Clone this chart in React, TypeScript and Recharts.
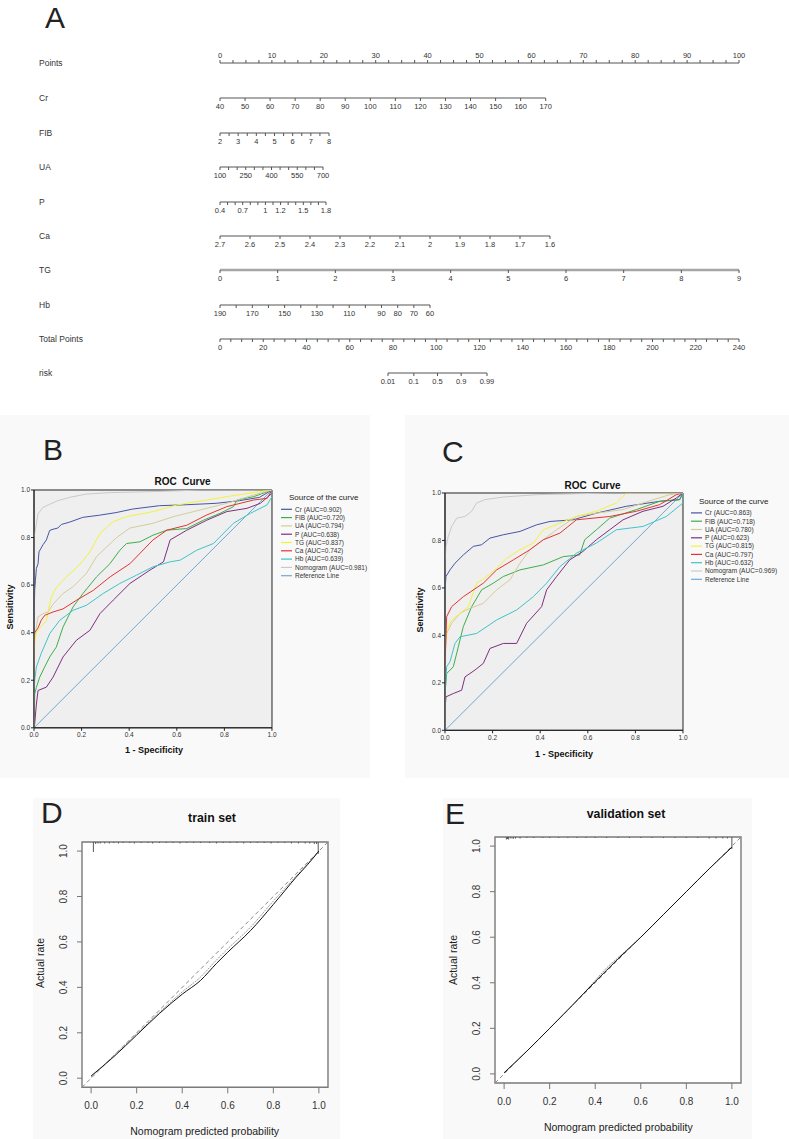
import React from "react";
import {
  ComposedChart,
  Line,
  XAxis,
  YAxis,
  CartesianGrid,
  ReferenceArea,
  ReferenceLine,
} from "recharts";

const FONT = "'Liberation Sans', Arial, Helvetica, sans-serif";

// ---------- A: nomogram scale labels
const POINTS_LABELS = [0, 10, 20, 30, 40, 50, 60, 70, 80, 90, 100];
const CR_LABELS = [40, 50, 60, 70, 80, 90, 100, 110, 120, 130, 140, 150, 160, 170];
const FIB_LABELS = [2, 3, 4, 5, 6, 7, 8];
const UA_LABELS = [100, 250, 400, 550, 700];
const P_LABELS = [0.4, 0.7, 1, 1.2, 1.5, 1.8];
const CA_LABELS = [2.7, 2.6, 2.5, 2.4, 2.3, 2.2, 2.1, 2, 1.9, 1.8, 1.7, 1.6];
const TG_LABELS = [0, 1, 2, 3, 4, 5, 6, 7, 8, 9];
const HB_LABELS = [190, 170, 150, 130, 110, 90, 80, 70, 60];
const TOTAL_LABELS = [0, 20, 40, 60, 80, 100, 120, 140, 160, 180, 200, 220, 240];
const RISK_LABELS = [0.01, 0.1, 0.5, 0.9, 0.99];

// ---------- B / C: ROC curves, [1 - specificity, sensitivity]
const B_CR = [[0, 0], [0, 0.44], [0.003, 0.58], [0.006, 0.62], [0.01, 0.67], [0.017, 0.69], [0.021, 0.74], [0.038, 0.77], [0.052, 0.79], [0.066, 0.83], [0.08, 0.835], [0.1, 0.84], [0.115, 0.855], [0.15, 0.865], [0.205, 0.885], [0.275, 0.894], [0.345, 0.905], [0.415, 0.92], [0.527, 0.934], [0.64, 0.938], [0.765, 0.944], [0.863, 0.955], [0.947, 0.969], [1, 1]];
const B_FIB = [[0, 0], [0.003, 0.143], [0.01, 0.17], [0.024, 0.213], [0.045, 0.256], [0.066, 0.298], [0.094, 0.34], [0.122, 0.424], [0.164, 0.508], [0.206, 0.565], [0.263, 0.635], [0.319, 0.69], [0.361, 0.747], [0.389, 0.775], [0.445, 0.782], [0.5, 0.81], [0.558, 0.831], [0.642, 0.838], [0.712, 0.873], [0.782, 0.902], [0.838, 0.93], [0.853, 0.958], [0.923, 0.972], [1, 1]];
const B_UA = [[0, 0], [0, 0.36], [0.006, 0.4], [0.017, 0.466], [0.038, 0.48], [0.059, 0.487], [0.08, 0.52], [0.122, 0.565], [0.164, 0.593], [0.22, 0.649], [0.263, 0.72], [0.305, 0.76], [0.347, 0.8], [0.403, 0.84], [0.5, 0.86], [0.586, 0.888], [0.698, 0.916], [0.81, 0.944], [0.923, 0.979], [1, 1]];
const B_P = [[0, 0], [0.003, 0.017], [0.01, 0.1], [0.017, 0.157], [0.052, 0.171], [0.08, 0.213], [0.122, 0.298], [0.178, 0.368], [0.235, 0.41], [0.277, 0.48], [0.333, 0.537], [0.403, 0.607], [0.487, 0.663], [0.544, 0.698], [0.572, 0.79], [0.642, 0.831], [0.726, 0.873], [0.81, 0.909], [0.895, 0.923], [0.951, 0.944], [1, 0.986], [1, 1]];
const B_TG = [[0, 0], [0, 0.3], [0.003, 0.36], [0.01, 0.4], [0.024, 0.42], [0.052, 0.45], [0.066, 0.52], [0.073, 0.55], [0.094, 0.59], [0.136, 0.635], [0.19, 0.684], [0.235, 0.74], [0.277, 0.817], [0.333, 0.867], [0.39, 0.888], [0.5, 0.909], [0.6, 0.937], [0.726, 0.958], [0.853, 0.979], [1, 1]];
const B_CA = [[0, 0], [0, 0.38], [0.003, 0.4], [0.017, 0.42], [0.03, 0.452], [0.045, 0.473], [0.08, 0.487], [0.122, 0.5], [0.178, 0.536], [0.249, 0.578], [0.32, 0.635], [0.403, 0.69], [0.5, 0.79], [0.558, 0.831], [0.642, 0.852], [0.726, 0.895], [0.81, 0.93], [0.923, 0.958], [0.98, 0.965], [1, 1]];
const B_HB = [[0, 0], [0, 0.15], [0.003, 0.2], [0.01, 0.256], [0.03, 0.312], [0.066, 0.396], [0.108, 0.452], [0.164, 0.494], [0.22, 0.515], [0.291, 0.565], [0.361, 0.607], [0.431, 0.642], [0.5, 0.677], [0.572, 0.698], [0.614, 0.705], [0.684, 0.747], [0.754, 0.775], [0.838, 0.86], [0.909, 0.902], [0.979, 0.937], [1, 0.972], [1, 1]];
const B_NOMO = [[0, 0], [0, 0.8], [0.006, 0.835], [0.017, 0.9], [0.038, 0.927], [0.066, 0.94], [0.1, 0.955], [0.15, 0.969], [0.22, 0.983], [0.32, 0.989], [0.53, 0.994], [0.7, 1], [1, 1]];
const B_AUC = ["0.902", "0.720", "0.794", "0.638", "0.837", "0.742", "0.639", "0.981"];

const C_CR = [[0, 0], [0, 0.59], [0.004, 0.648], [0.021, 0.676], [0.042, 0.704], [0.077, 0.739], [0.119, 0.775], [0.154, 0.782], [0.189, 0.81], [0.245, 0.824], [0.315, 0.838], [0.385, 0.866], [0.441, 0.88], [0.538, 0.887], [0.636, 0.915], [0.762, 0.944], [0.902, 0.965], [0.986, 0.972], [1, 1]];
const C_FIB = [[0, 0], [0, 0.155], [0.007, 0.239], [0.035, 0.268], [0.056, 0.352], [0.077, 0.437], [0.112, 0.521], [0.154, 0.592], [0.203, 0.62], [0.245, 0.648], [0.315, 0.676], [0.413, 0.697], [0.497, 0.732], [0.566, 0.739], [0.587, 0.803], [0.636, 0.845], [0.692, 0.894], [0.804, 0.93], [0.902, 0.965], [0.986, 0.972], [1, 1]];
const C_UA = [[0, 0], [0, 0.324], [0.007, 0.408], [0.028, 0.451], [0.063, 0.493], [0.105, 0.514], [0.161, 0.535], [0.217, 0.592], [0.273, 0.634], [0.315, 0.704], [0.357, 0.761], [0.413, 0.803], [0.469, 0.845], [0.552, 0.901], [0.636, 0.915], [0.748, 0.93], [0.832, 0.958], [0.944, 0.993], [1, 1]];
const C_P = [[0, 0], [0, 0.085], [0.004, 0.141], [0.035, 0.155], [0.07, 0.169], [0.084, 0.225], [0.126, 0.254], [0.161, 0.282], [0.189, 0.345], [0.245, 0.366], [0.301, 0.366], [0.343, 0.451], [0.406, 0.521], [0.427, 0.592], [0.469, 0.648], [0.524, 0.718], [0.58, 0.754], [0.636, 0.803], [0.692, 0.845], [0.748, 0.887], [0.832, 0.923], [0.916, 0.944], [0.972, 0.979], [1, 1]];
const C_TG = [[0, 0], [0, 0.352], [0.007, 0.423], [0.028, 0.465], [0.063, 0.493], [0.098, 0.521], [0.133, 0.62], [0.175, 0.648], [0.217, 0.683], [0.259, 0.725], [0.315, 0.761], [0.371, 0.789], [0.413, 0.845], [0.483, 0.873], [0.552, 0.901], [0.636, 0.923], [0.72, 0.958], [0.762, 1], [1, 1]];
const C_CA = [[0, 0], [0, 0.268], [0.007, 0.479], [0.028, 0.521], [0.077, 0.563], [0.161, 0.62], [0.217, 0.676], [0.287, 0.718], [0.357, 0.761], [0.413, 0.803], [0.483, 0.831], [0.552, 0.887], [0.692, 0.901], [0.804, 0.923], [0.902, 0.951], [0.972, 0.993], [1, 1]];
const C_HB = [[0, 0], [0, 0.155], [0.007, 0.268], [0.021, 0.289], [0.042, 0.366], [0.063, 0.394], [0.133, 0.408], [0.217, 0.465], [0.301, 0.507], [0.371, 0.563], [0.427, 0.62], [0.483, 0.69], [0.552, 0.746], [0.636, 0.789], [0.72, 0.845], [0.832, 0.859], [0.93, 0.901], [1, 0.958], [1, 1]];
const C_NOMO = [[0, 0], [0, 0.7], [0.004, 0.775], [0.014, 0.817], [0.028, 0.859], [0.049, 0.894], [0.084, 0.901], [0.112, 0.923], [0.133, 0.958], [0.168, 0.972], [0.245, 0.983], [0.385, 0.993], [0.692, 1], [1, 1]];
const C_AUC = ["0.863", "0.718", "0.780", "0.623", "0.815", "0.797", "0.632", "0.969"];

const REF_LINE = [[0, 0], [1, 1]];
const ROC_NAMES = ["Cr", "FIB", "UA", "P", "TG", "Ca", "Hb", "Nomogram"];
const ROC_COLORS = ["#4454a4", "#3dae49", "#d4cc98", "#7d2e80", "#f2f23c", "#e2342f", "#3fc3c7", "#c9c9c9"];
const REF_COLOR = "#6fa9d6";
const ROC_TICKS = [0, 0.2, 0.4, 0.6, 0.8, 1];

// ---------- D / E: calibration
const TRAIN_PRED = [0, 0.1, 0.2, 0.3, 0.4, 0.48, 0.55, 0.6, 0.7, 0.8, 0.85, 0.9, 0.95, 1];
const TRAIN_ACTUAL = [0.01, 0.095, 0.19, 0.285, 0.37, 0.43, 0.505, 0.555, 0.65, 0.765, 0.825, 0.885, 0.94, 1];
const TRAIN_APPARENT = [0.005, 0.1, 0.195, 0.29, 0.38, 0.445, 0.52, 0.57, 0.665, 0.78, 0.835, 0.89, 0.945, 1];
const TRAIN_RUG_X = [0.01, 0.02, 0.03, 0.04, 0.06, 0.08, 0.1, 0.12, 0.14, 0.17, 0.19, 0.22, 0.25, 0.27, 0.3, 0.33, 0.36, 0.39, 0.42, 0.45, 0.48, 0.52, 0.55, 0.58, 0.61, 0.64, 0.67, 0.7, 0.73, 0.76, 0.79, 0.82, 0.85, 0.88, 0.91, 0.94, 0.96, 0.98, 0.99, 0.997];
const TRAIN_RUG_N = [20, 4, 3, 3, 3, 3, 2, 3, 2, 2, 3, 2, 2, 3, 2, 2, 2, 3, 2, 2, 2, 2, 3, 2, 2, 2, 3, 2, 2, 2, 3, 2, 2, 3, 3, 3, 3, 4, 4, 24];

const VALID_PRED = [0, 0.1, 0.2, 0.3, 0.4, 0.45, 0.5, 0.6, 0.7, 0.8, 0.9, 1];
const VALID_ACTUAL = [0.005, 0.1, 0.2, 0.302, 0.405, 0.455, 0.505, 0.6, 0.7, 0.8, 0.9, 0.995];
const VALID_APPARENT = [0.005, 0.1, 0.2, 0.3, 0.41, 0.465, 0.51, 0.6, 0.7, 0.8, 0.9, 0.995];
const VALID_RUG_X = [0.01, 0.015, 0.02, 0.03, 0.04, 0.05, 0.07, 0.1, 0.13, 0.17, 0.2, 0.24, 0.28, 0.32, 0.36, 0.4, 0.45, 0.5, 0.55, 0.6, 0.65, 0.7, 0.75, 0.8, 0.85, 0.9, 0.93, 0.96, 0.98, 1];
const VALID_RUG_N = [5, 4, 5, 3, 4, 3, 3, 2, 2, 2, 2, 2, 2, 2, 2, 2, 2, 2, 2, 2, 2, 2, 2, 2, 2, 3, 3, 3, 3, 24];
const CAL_TICKS = [0, 0.2, 0.4, 0.6, 0.8, 1];

// ---------- helpers
function steps(lo: number, hi: number, step: number) {
  const out: number[] = [];
  for (let v = lo; v <= hi + 1e-9; v += step) out.push(+v.toFixed(4));
  return out;
}
const logit = (p: number) => Math.log(p / (1 - p));
const toPts = (arr: number[][]) => arr.map(([x, y]) => ({ x, y }));
const zipPts = (xs: number[], ys: number[]) => xs.map((x, i) => ({ x, y: ys[i] }));

const NOMO_ROWS = [
  { name: "Points", labels: POINTS_LABELS, ticks: steps(0, 100, 2.5), domain: [0, 100], x0: 220, x1: 739, y: 63, top: true },
  { name: "Cr", labels: CR_LABELS, ticks: CR_LABELS, domain: [40, 170], x0: 220, x1: 545.7, y: 98 },
  { name: "FIB", labels: FIB_LABELS, ticks: steps(2, 8, 0.5), domain: [2, 8], x0: 220, x1: 329, y: 133 },
  { name: "UA", labels: UA_LABELS, ticks: steps(100, 700, 50), domain: [100, 700], x0: 220, x1: 323, y: 167 },
  { name: "P", labels: P_LABELS, ticks: steps(0.4, 1.8, 0.1), domain: [0.4, 1.8], x0: 220, x1: 326, y: 202 },
  { name: "Ca", labels: CA_LABELS, ticks: CA_LABELS, domain: [1.6, 2.7], reversed: true, x0: 220, x1: 550, y: 236 },
  { name: "TG", labels: TG_LABELS, ticks: TG_LABELS, domain: [0, 9], x0: 220, x1: 739, y: 270, thick: true },
  { name: "Hb", labels: HB_LABELS, ticks: steps(60, 190, 10), domain: [60, 190], reversed: true, x0: 220, x1: 430, y: 305 },
  { name: "Total Points", labels: TOTAL_LABELS, ticks: steps(0, 240, 5), domain: [0, 240], x0: 220, x1: 739, y: 339 },
  { name: "risk", labels: RISK_LABELS, ticks: RISK_LABELS, domain: [0.01, 0.99], x0: 388, x1: 487, y: 373, logit: true },
];

function NomoRow({ row }: { row: any }) {
  const pad = 24;
  const h = 40;
  const axisH = 30;
  const f = row.logit ? logit : (v: number) => v;
  const data = row.ticks.map((t: number) => ({ v: f(t), y: 0.5 }));
  const fmt = (v: number) => {
    const l = row.labels.find((l: number) => Math.abs(f(l) - v) < 1e-6);
    return l === undefined ? "" : String(l);
  };
  return (
    <div style={{ position: "absolute", left: row.x0 - pad, top: row.y - (row.top ? axisH : h - axisH) }}>
      <ComposedChart width={row.x1 - row.x0 + 2 * pad} height={h} data={data} margin={{ top: 0, right: pad, bottom: 0, left: pad }}>
        <XAxis
          dataKey="v"
          type="number"
          domain={[f(row.domain[0]), f(row.domain[1])]}
          ticks={row.ticks.map(f)}
          interval={0}
          reversed={row.reversed}
          orientation={row.top ? "top" : "bottom"}
          height={axisH}
          tickFormatter={fmt}
          tickSize={3}
          tickMargin={row.top ? 2 : 3}
          tick={{ fontSize: 7.5, fill: "#333", fontFamily: FONT }}
          tickLine={{ stroke: "#555" }}
          axisLine={{ stroke: row.thick ? "#a6a6a6" : "#555", strokeWidth: row.thick ? 2.5 : 1 }}
          allowDataOverflow
        />
        <YAxis hide domain={[0, 1]} />
        <Line dataKey="y" stroke="none" dot={false} isAnimationActive={false} />
      </ComposedChart>
    </div>
  );
}

type Plot = { x: number; y: number; w: number; h: number };

function RocChart({ plot, curves }: { plot: Plot; curves: number[][][] }) {
  const yW = 30, xH = 20, m = 6;
  const ref = toPts(REF_LINE);
  return (
    <div style={{ position: "absolute", left: plot.x - yW - m, top: plot.y - m }}>
      <ComposedChart width={plot.w + yW + 2 * m} height={plot.h + xH + 2 * m} margin={{ top: m, right: m, bottom: m, left: m }}>
        <CartesianGrid fill="#efefef" fillOpacity={1} horizontal={false} vertical={false} />
        <XAxis
          type="number"
          dataKey="x"
          domain={[0, 1]}
          ticks={ROC_TICKS}
          interval={0}
          tickFormatter={(v) => v.toFixed(1)}
          tick={{ fontSize: 6.5, fill: "#333", fontFamily: FONT }}
          tickSize={3}
          tickMargin={2}
          height={xH}
          axisLine={{ stroke: "#222" }}
          tickLine={{ stroke: "#222" }}
          allowDataOverflow
        />
        <YAxis
          type="number"
          domain={[0, 1]}
          ticks={ROC_TICKS}
          interval={0}
          tickFormatter={(v) => v.toFixed(1)}
          tick={{ fontSize: 6.5, fill: "#333", fontFamily: FONT }}
          tickSize={3}
          tickMargin={1}
          width={yW}
          axisLine={{ stroke: "#222" }}
          tickLine={{ stroke: "#222" }}
          allowDataOverflow
        />
        <ReferenceLine segment={[ref[0], ref[1]]} stroke={REF_COLOR} strokeWidth={1} ifOverflow="visible" />
        {curves.map((c, i) => (
          <Line
            key={ROC_NAMES[i]}
            name={ROC_NAMES[i]}
            data={toPts(c)}
            dataKey="y"
            type="linear"
            stroke={ROC_COLORS[i]}
            strokeWidth={1}
            dot={false}
            isAnimationActive={false}
          />
        ))}
        <ReferenceArea x1={0} x2={1} y1={0} y2={1} fill="none" stroke="#222" strokeWidth={1} ifOverflow="visible" />
      </ComposedChart>
    </div>
  );
}

function RotTick(props: any) {
  const { x, y, payload } = props;
  return (
    <text x={x} y={y} transform={`rotate(-90 ${x} ${y})`} textAnchor="middle" fontSize={10} fill="#333" fontFamily={FONT}>
      {Number(payload.value).toFixed(1)}
    </text>
  );
}

const RUG_UNIT = 0.0022;

function CalChart(props: { plot: Plot; pred: number[]; actual: number[]; apparent: number[]; rugX: number[]; rugN: number[] }) {
  const { plot, pred, actual, apparent, rugX, rugN } = props;
  const yW = 40, xH = 32, m = 5;
  const lo = -0.04, hi = 1.04;
  return (
    <div style={{ position: "absolute", left: plot.x - yW - m, top: plot.y - m }}>
      <ComposedChart width={plot.w + yW + 2 * m} height={plot.h + xH + 2 * m} margin={{ top: m, right: m, bottom: m, left: m }}>
        <CartesianGrid fill="#ffffff" fillOpacity={1} horizontal={false} vertical={false} />
        <XAxis
          type="number"
          dataKey="x"
          domain={[lo, hi]}
          ticks={CAL_TICKS}
          interval={0}
          tickFormatter={(v) => v.toFixed(1)}
          tick={{ fontSize: 10, fill: "#333", fontFamily: FONT }}
          tickSize={6}
          tickMargin={9}
          height={xH}
          axisLine={false}
          tickLine={{ stroke: "#777" }}
          allowDataOverflow
        />
        <YAxis
          type="number"
          domain={[lo, hi]}
          ticks={CAL_TICKS}
          interval={0}
          tick={<RotTick />}
          tickSize={5}
          tickMargin={10}
          width={yW}
          axisLine={false}
          tickLine={{ stroke: "#777" }}
          allowDataOverflow
        />
        <ReferenceLine
          segment={[{ x: lo, y: lo }, { x: hi, y: hi }]}
          stroke="#8a8a8a"
          strokeDasharray="4 3"
          ifOverflow="visible"
        />
        {rugX.map((x, i) => (
          <ReferenceLine
            key={"r" + i}
            segment={[{ x, y: hi }, { x, y: hi - rugN[i] * RUG_UNIT }]}
            stroke="#555"
            strokeWidth={1}
            ifOverflow="visible"
          />
        ))}
        <Line key="apparent" data={zipPts(pred, apparent)} dataKey="y" type="monotone" stroke="#9a9a9a" strokeWidth={1} strokeDasharray="2 1" dot={false} isAnimationActive={false} />
        <Line key="corrected" data={zipPts(pred, actual)} dataKey="y" type="monotone" stroke="#111" strokeWidth={1} dot={false} isAnimationActive={false} />
        <ReferenceArea x1={lo} x2={hi} y1={lo} y2={hi} fill="none" stroke="#7a7a7a" strokeWidth={1.4} ifOverflow="visible" />
      </ComposedChart>
    </div>
  );
}

const PLOT_B = { x: 34.3, y: 489.5, w: 238, h: 237.8 };
const PLOT_C = { x: 444.8, y: 493, w: 238, h: 237.3 };
const PLOT_D = { x: 81.7, y: 841.7, w: 246, h: 245.3 };
const PLOT_E = { x: 495.3, y: 837.3, w: 246, h: 246 };

function Legend({ x, y, aucs }: { x: number; y: number; aucs: string[] }) {
  const rows = ROC_NAMES.map((n, i) => ({ label: `${n} (AUC=${aucs[i]})`, color: ROC_COLORS[i] }));
  rows.push({ label: "Reference Line", color: REF_COLOR });
  return (
    <g fontFamily={FONT}>
      <text x={x + 8} y={y} fontSize={8} fill="#222">Source of the curve</text>
      {rows.map((r, i) => (
        <g key={r.label}>
          <line x1={x} x2={x + 11} y1={y + 9.3 + i * 8.3} y2={y + 9.3 + i * 8.3} stroke={r.color} strokeWidth={1.2} />
          <text x={x + 14} y={y + 11.6 + i * 8.3} fontSize={6.5} fill="#333">{r.label}</text>
        </g>
      ))}
    </g>
  );
}

function Overlay() {
  const letter = { fontSize: 30, fill: "#222", fontFamily: FONT };
  return (
    <svg width={789} height={1139} style={{ position: "absolute", left: 0, top: 0, pointerEvents: "none" }}>
      <text x={45} y={28} {...letter}>A</text>
      <text x={43} y={460} {...letter}>B</text>
      <text x={442} y={462} {...letter}>C</text>
      <text x={41} y={823} {...letter}>D</text>
      <text x={445} y={824} {...letter}>E</text>

      {NOMO_ROWS.map((r) => (
        <text key={r.name} x={39} y={r.y + 3} fontSize={8.5} fill="#333" fontFamily={FONT}>{r.name}</text>
      ))}

      <g fontFamily={FONT} fontWeight="bold" fill="#111">
        <text x={182.5} y={485} fontSize={10} textAnchor="middle" style={{ whiteSpace: "pre" }}>{"ROC  Curve"}</text>
        <text x={592.5} y={489} fontSize={10} textAnchor="middle" style={{ whiteSpace: "pre" }}>{"ROC  Curve"}</text>
        <text x={13.3} y={607} fontSize={9} textAnchor="middle" transform="rotate(-90 13.3 607)">Sensitivity</text>
        <text x={423.3} y={610} fontSize={9} textAnchor="middle" transform="rotate(-90 423.3 610)">Sensitivity</text>
        <text x={154} y={753} fontSize={9} textAnchor="middle">1 - Specificity</text>
        <text x={564} y={757} fontSize={9} textAnchor="middle">1 - Specificity</text>
        <text x={212} y={822} fontSize={12.3} textAnchor="middle">train set</text>
        <text x={626} y={817.7} fontSize={12.3} textAnchor="middle">validation set</text>
      </g>

      <Legend x={281} y={500} aucs={B_AUC} />
      <Legend x={691} y={503.6} aucs={C_AUC} />

      <g fontFamily={FONT} fill="#222" fontSize={10.5}>
        <text x={43.8} y={963} textAnchor="middle" transform="rotate(-90 43.8 963)">Actual rate</text>
        <text x={456.5} y={960} textAnchor="middle" transform="rotate(-90 456.5 960)">Actual rate</text>
        <text x={204.7} y={1134.8} textAnchor="middle">Nomogram predicted probability</text>
        <text x={618.3} y={1130.5} textAnchor="middle">Nomogram predicted probability</text>
      </g>
    </svg>
  );
}

export default function App() {
  return (
    <div style={{ position: "absolute", left: 0, top: 0, width: 789, height: 1139, background: "#fff", overflow: "hidden", fontFamily: FONT }}>
      {/* faint panel backgrounds */}
      <div style={{ position: "absolute", left: 0, top: 415, width: 370, height: 363, background: "#f9f9f9" }} />
      <div style={{ position: "absolute", left: 405, top: 415, width: 384, height: 363, background: "#f9f9f9" }} />
      <div style={{ position: "absolute", left: 33, top: 798, width: 307, height: 341, background: "#f9f9f9" }} />
      <div style={{ position: "absolute", left: 443, top: 798, width: 309, height: 341, background: "#f9f9f9" }} />

      {NOMO_ROWS.map((r) => (
        <NomoRow key={r.name} row={r} />
      ))}

      <RocChart plot={PLOT_B} curves={[B_CR, B_FIB, B_UA, B_P, B_TG, B_CA, B_HB, B_NOMO]} />
      <RocChart plot={PLOT_C} curves={[C_CR, C_FIB, C_UA, C_P, C_TG, C_CA, C_HB, C_NOMO]} />

      <CalChart plot={PLOT_D} pred={TRAIN_PRED} actual={TRAIN_ACTUAL} apparent={TRAIN_APPARENT} rugX={TRAIN_RUG_X} rugN={TRAIN_RUG_N} />
      <CalChart plot={PLOT_E} pred={VALID_PRED} actual={VALID_ACTUAL} apparent={VALID_APPARENT} rugX={VALID_RUG_X} rugN={VALID_RUG_N} />

      <Overlay />
    </div>
  );
}
